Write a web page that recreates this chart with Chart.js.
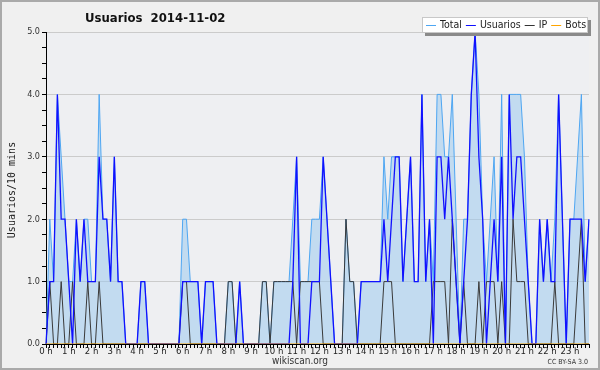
<!DOCTYPE html>
<html>
<head>
<meta charset="utf-8">
<script src="https://cdn.jsdelivr.net/npm/chart.js@4.4.0/dist/chart.umd.min.js"></script>
<style>
  html, body { margin: 0; padding: 0; background: #f0f0f0; }
</style>
</head>
<body>
<canvas id="usersChart" width="600" height="370"></canvas>
<script>
// hour tick labels, one every 6 slots of 10 minutes
const hourLabels = ["0 h", "1 h", "2 h", "3 h", "4 h", "5 h", "6 h", "7 h", "8 h", "9 h", "10 h", "11 h",
  "12 h", "13 h", "14 h", "15 h", "16 h", "17 h", "18 h", "19 h", "20 h", "21 h", "22 h", "23 h"];

// users per 10 minutes, 12 values per row (2 hours)
const total = [
  0, 2, 1, 4, 3, 2, 1, 1, 2, 1, 2, 2,
  1, 1, 4, 2, 2, 1, 3, 1, 1, 0, 0, 0,
  0, 1, 1, 0, 0, 0, 0, 0, 0, 0, 0, 0,
  2, 2, 1, 1, 1, 0, 1, 1, 1, 0, 0, 0,
  1, 1, 0, 1, 0, 0, 0, 0, 0, 1, 1, 0,
  1, 1, 1, 1, 1, 2, 3, 1, 1, 1, 2, 2,
  2, 3, 2, 1, 0, 0, 0, 2, 1, 1, 0, 1,
  1, 1, 1, 1, 1, 3, 2, 3, 3, 3, 1, 2,
  3, 1, 1, 4, 1, 2, 1, 4, 4, 3, 3, 4,
  2, 0, 2, 2, 4, 5, 4, 2, 1, 2, 3, 1,
  4, 0, 4, 4, 4, 4, 3, 1, 0, 0, 2, 1,
  2, 1, 2, 4, 2, 0, 2, 2, 3, 4, 1, 2
];
const usuarios = [
  0, 1, 1, 4, 2, 2, 1, 0, 2, 1, 2, 1,
  1, 1, 3, 2, 2, 1, 3, 1, 1, 0, 0, 0,
  0, 1, 1, 0, 0, 0, 0, 0, 0, 0, 0, 0,
  1, 1, 1, 1, 1, 0, 1, 1, 1, 0, 0, 0,
  0, 0, 0, 1, 0, 0, 0, 0, 0, 0, 0, 0,
  0, 0, 0, 0, 0, 1, 3, 0, 0, 0, 1, 1,
  1, 3, 2, 1, 0, 0, 0, 0, 0, 0, 0, 1,
  1, 1, 1, 1, 1, 2, 1, 2, 3, 3, 1, 2,
  3, 1, 1, 4, 1, 2, 0, 3, 3, 2, 3, 2,
  1, 0, 1, 2, 4, 5, 3, 2, 0, 1, 2, 1,
  3, 0, 4, 2, 3, 3, 2, 1, 0, 0, 2, 1,
  2, 1, 1, 4, 2, 0, 2, 2, 2, 2, 1, 2
];
const ip = [
  0, 1, 0, 0, 1, 0, 0, 1, 0, 0, 0, 1,
  0, 0, 1, 0, 0, 0, 0, 0, 0, 0, 0, 0,
  0, 0, 0, 0, 0, 0, 0, 0, 0, 0, 0, 0,
  1, 1, 0, 0, 0, 0, 0, 0, 0, 0, 0, 0,
  1, 1, 0, 0, 0, 0, 0, 0, 0, 1, 1, 0,
  1, 1, 1, 1, 1, 1, 0, 1, 1, 1, 1, 1,
  1, 0, 0, 0, 0, 0, 0, 2, 1, 1, 0, 0,
  0, 0, 0, 0, 0, 1, 1, 1, 0, 0, 0, 0,
  0, 0, 0, 0, 0, 0, 1, 1, 1, 1, 0, 2,
  1, 0, 1, 0, 0, 0, 1, 0, 1, 1, 1, 0,
  1, 0, 0, 2, 1, 1, 1, 0, 0, 0, 0, 0,
  0, 0, 1, 0, 0, 0, 0, 0, 1, 2, 0, 0
];
const bots = [
  0, 0, 0, 0, 0, 0, 0, 0, 0, 0, 0, 0,
  0, 0, 0, 0, 0, 0, 0, 0, 0, 0, 0, 0,
  0, 0, 0, 0, 0, 0, 0, 0, 0, 0, 0, 0,
  0, 0, 0, 0, 0, 0, 0, 0, 0, 0, 0, 0,
  0, 0, 0, 0, 0, 0, 0, 0, 0, 0, 0, 0,
  0, 0, 0, 0, 0, 0, 0, 0, 0, 0, 0, 0,
  0, 0, 0, 0, 0, 0, 0, 0, 0, 0, 0, 0,
  0, 0, 0, 0, 0, 0, 0, 0, 0, 0, 0, 0,
  0, 0, 0, 0, 0, 0, 0, 0, 0, 0, 0, 0,
  0, 0, 0, 0, 0, 0, 0, 0, 0, 0, 0, 0,
  0, 0, 0, 0, 0, 0, 0, 0, 0, 0, 0, 0,
  0, 0, 0, 0, 0, 0, 0, 0, 0, 0, 0, 0
];

const sans = "'DejaVu Sans Condensed', 'DejaVu Sans', sans-serif";

// one category per 10 minute slot
const slots = [];
hourLabels.forEach(function (h, i) {
  for (let m = 0; m < 6; m++) slots.push(i + ":" + m + "0");
});

const legendItems = [
  { text: "Total", color: "#4ea6f2" },
  { text: "Usuarios", color: "#1010ff" },
  { text: "IP", color: "#333333" },
  { text: "Bots", color: "#ffa500" }
];

// background, title, legend box and footer texts
const decorations = {
  id: "decorations",
  beforeDraw(chart) {
    const c = chart.ctx;
    const a = chart.chartArea;
    c.save();
    c.fillStyle = "#f0f0f0";
    c.fillRect(0, 0, chart.width, chart.height);
    c.fillStyle = "#eeeff2";
    c.fillRect(a.left, a.top, a.right - a.left, a.bottom - a.top);
    c.restore();
  },
  afterDraw(chart) {
    const c = chart.ctx;
    c.save();

    // title
    c.fillStyle = "#111";
    c.font = "bold 13px " + sans;
    c.textBaseline = "alphabetic";
    c.textAlign = "left";
    c.fillText("Usuarios  2014-11-02", 85, 22);

    // y axis title
    c.save();
    c.translate(12, 190);
    c.rotate(-Math.PI / 2);
    c.textAlign = "center";
    c.textBaseline = "middle";
    c.fillStyle = "#222";
    c.font = "10px 'DejaVu Sans Mono', monospace";
    c.fillText("Usuarios/10 mins", 0, 0);
    c.restore();

    // legend box with shadow
    const bx = 422, by = 17, bw = 166, bh = 16;
    c.fillStyle = "#8a8a8a";
    c.fillRect(bx + 3, by + 3, bw, bh);
    c.fillStyle = "#ffffff";
    c.fillRect(bx, by, bw, bh);
    c.strokeStyle = "#c8c8c8";
    c.lineWidth = 1;
    c.strokeRect(bx + 0.5, by + 0.5, bw - 1, bh - 1);
    c.font = "10.5px " + sans;
    c.textBaseline = "middle";
    let x = bx + 4;
    legendItems.forEach(function (it) {
      c.strokeStyle = it.color;
      c.lineWidth = 1;
      c.beginPath();
      c.moveTo(x, by + 8.5);
      c.lineTo(x + 10, by + 8.5);
      c.stroke();
      x += 14;
      c.fillStyle = "#222";
      c.fillText(it.text, x, by + 8.5);
      x += c.measureText(it.text).width + 4;
    });

    // footer
    c.fillStyle = "#333";
    c.font = "10px " + sans;
    c.textAlign = "center";
    c.textBaseline = "middle";
    c.fillText("wikiscan.org", 300, 361);
    c.font = "7px " + sans;
    c.textAlign = "right";
    c.fillText("CC BY-SA 3.0", 588, 362);

    // outer frame
    c.strokeStyle = "#aaaaaa";
    c.lineWidth = 2;
    c.strokeRect(1, 1, chart.width - 2, chart.height - 2);
    c.restore();
  }
};

new Chart(document.getElementById("usersChart").getContext("2d"), {
  type: "line",
  data: {
    labels: slots,
    datasets: [
      {
        label: "Total",
        data: total,
        borderColor: "#4ea6f2",
        backgroundColor: "rgba(158, 203, 238, 0.55)",
        borderWidth: 1,
        fill: "origin",
        order: 4
      },
      {
        label: "IP",
        data: ip,
        borderColor: "#3a3a3a",
        borderWidth: 1,
        fill: false,
        order: 3
      },
      {
        label: "Usuarios",
        data: usuarios,
        borderColor: "#1010ff",
        borderWidth: 1.3,
        fill: false,
        order: 2
      },
      {
        label: "Bots",
        data: bots,
        borderColor: "#ffa500",
        borderWidth: 1,
        fill: false,
        order: 1
      }
    ]
  },
  options: {
    responsive: false,
    animation: false,
    devicePixelRatio: 1,
    layout: { padding: { top: 32, right: 11, bottom: 0, left: 0 } },
    elements: { point: { radius: 0 }, line: { tension: 0 } },
    plugins: { legend: { display: false }, title: { display: false }, tooltip: { enabled: false } },
    scales: {
      x: {
        type: "category",
        offset: false,
        z: 1,
        border: { color: "#000", width: 1 },
        grid: { display: true, drawOnChartArea: false, tickLength: 4, tickColor: "#000", offset: false },
        ticks: {
          autoSkip: false,
          maxRotation: 0,
          padding: -2,
          color: "#222",
          font: { family: sans, size: 9.5 },
          callback: function (v, i) {
            return i % 6 === 0 ? hourLabels[i / 6] : "";
          }
        },
        afterFit: function (s) { s.height = 26; }
      },
      y: {
        min: 0,
        max: 5,
        border: { color: "#000", width: 1 },
        grid: {
          color: function (ctx) {
            return ctx.tick && Number.isInteger(ctx.tick.value) && ctx.tick.value > 0 ? "#cbcbcb" : "rgba(0,0,0,0)";
          },
          tickColor: "#000",
          tickLength: 4
        },
        ticks: {
          stepSize: 0.25,
          maxTicksLimit: 30,
          autoSkip: false,
          padding: 2,
          color: "#333",
          font: { family: sans, size: 9 },
          callback: function (v) {
            return Number.isInteger(v) ? v.toFixed(1) : "";
          }
        },
        afterFit: function (s) { s.width = 46; }
      }
    }
  },
  plugins: [decorations]
});
</script>
</body>
</html>
